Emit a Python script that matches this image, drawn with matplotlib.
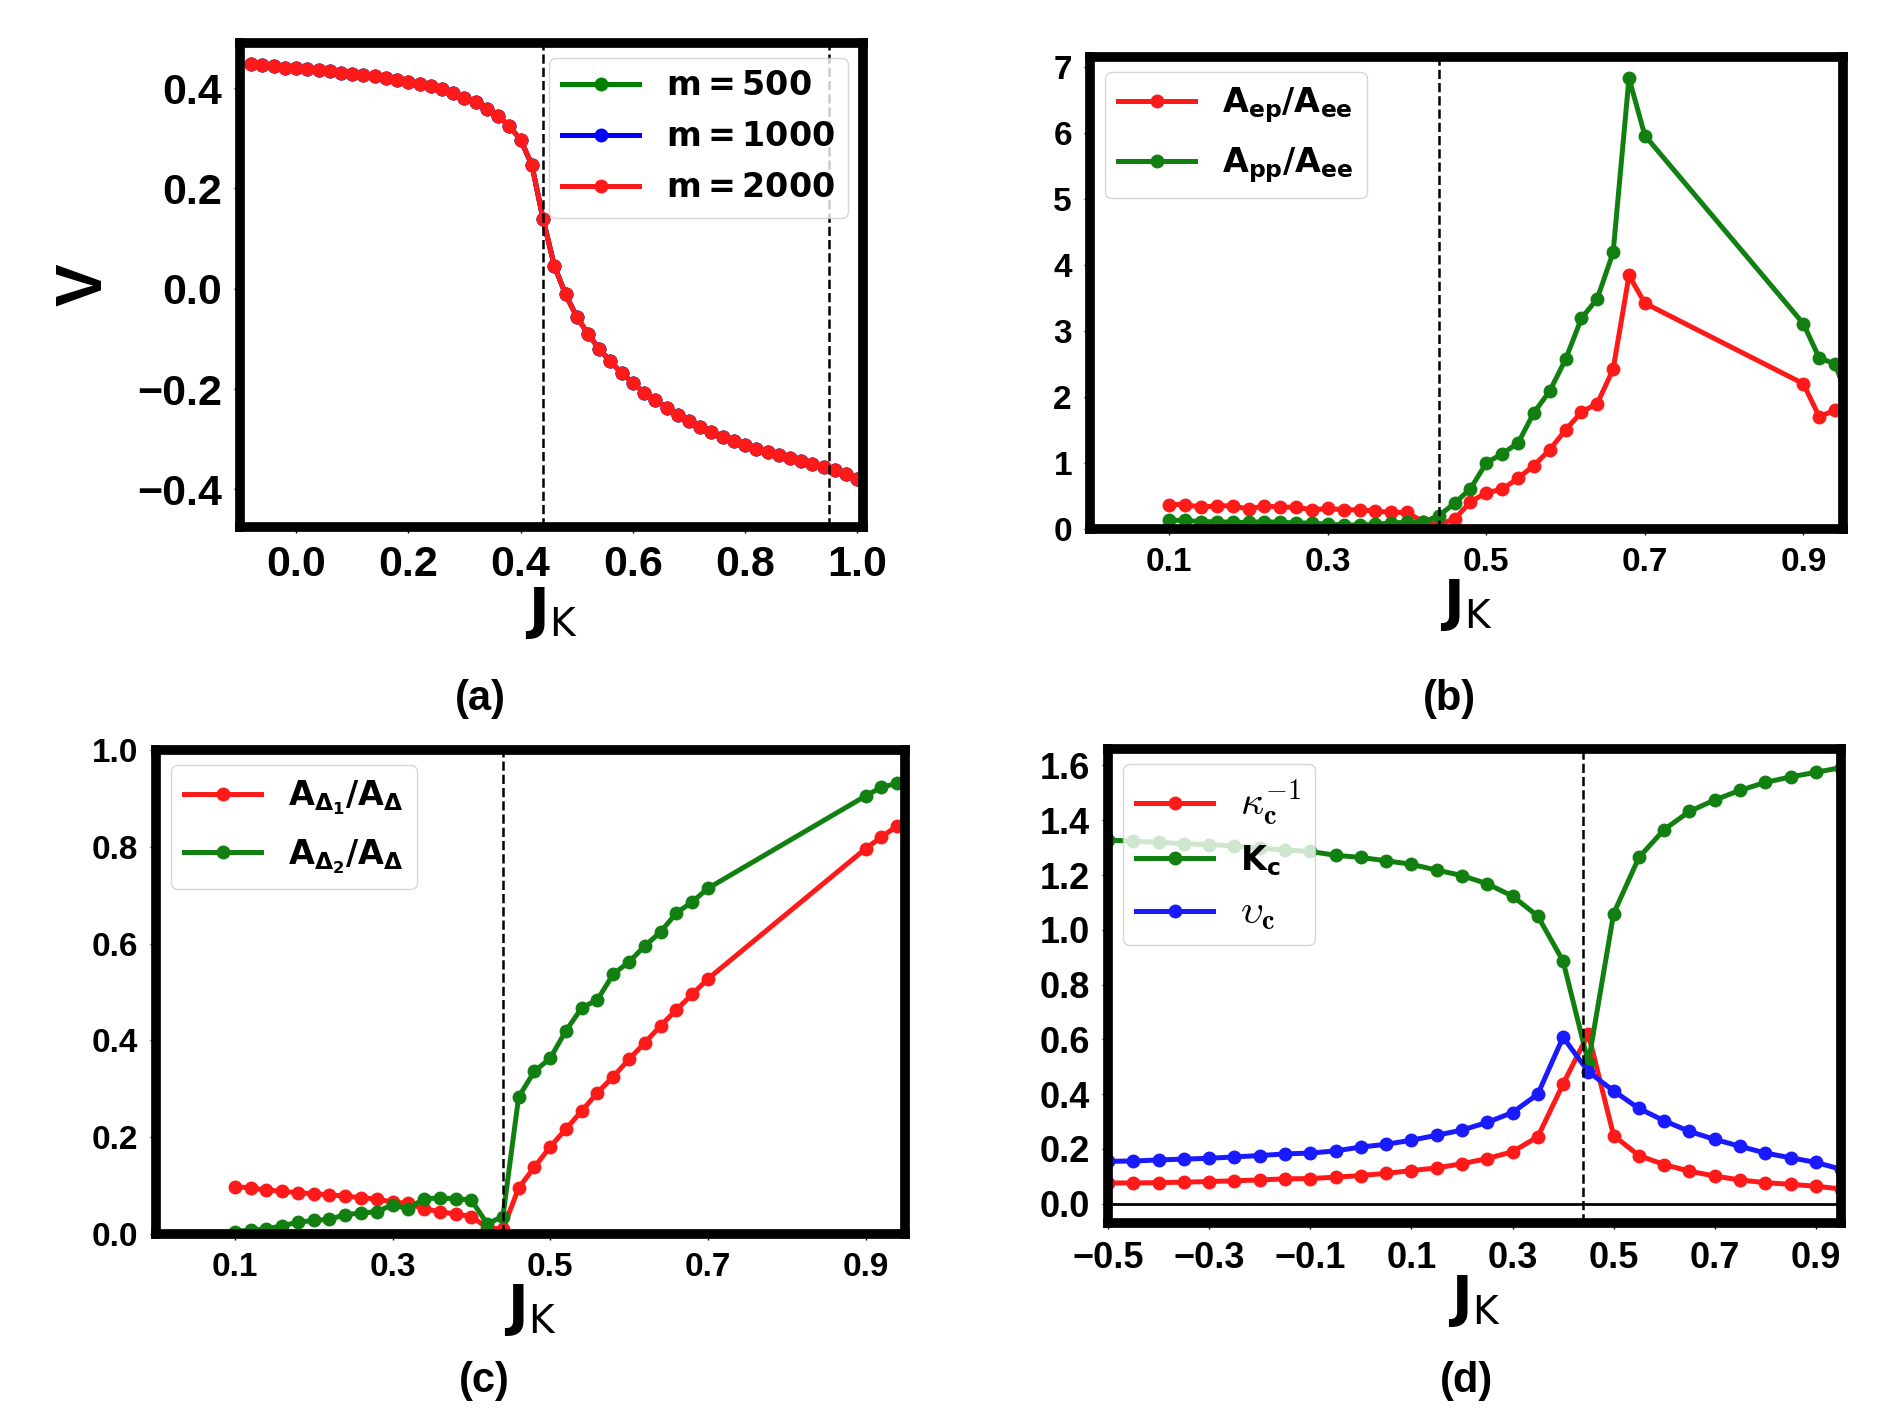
import matplotlib
matplotlib.use("Agg")
import matplotlib.pyplot as plt

plt.rcParams['font.family'] = ['Liberation Sans', 'DejaVu Sans']
plt.rcParams['font.weight'] = 'normal'
plt.rcParams['mathtext.fontset'] = 'dejavusans'

# ---------------- panel (a) ----------------
jk_a = [-0.08, -0.06, -0.04, -0.02, 0.00, 0.02, 0.04, 0.06, 0.08, 0.10,
        0.12, 0.14, 0.16, 0.18, 0.20, 0.22, 0.24, 0.26, 0.28, 0.30,
        0.32, 0.34, 0.36, 0.38, 0.40, 0.42, 0.44, 0.46, 0.48, 0.50,
        0.52, 0.54, 0.56, 0.58, 0.60, 0.62, 0.64, 0.66, 0.68, 0.70,
        0.72, 0.74, 0.76, 0.78, 0.80, 0.82, 0.84, 0.86, 0.88, 0.90,
        0.92, 0.94, 0.96, 0.98, 1.00]
v_m2000 = [0.448, 0.447, 0.444, 0.441, 0.440, 0.438, 0.436, 0.434, 0.431, 0.429,
           0.426, 0.424, 0.420, 0.416, 0.412, 0.409, 0.404, 0.398, 0.390, 0.381,
           0.372, 0.359, 0.345, 0.324, 0.297, 0.247, 0.139, 0.046, -0.011, -0.056,
           -0.090, -0.120, -0.145, -0.168, -0.188, -0.207, -0.222, -0.237, -0.251, -0.264,
           -0.275, -0.285, -0.295, -0.304, -0.312, -0.319, -0.326, -0.332, -0.338, -0.344,
           -0.349, -0.355, -0.362, -0.370, -0.379]
v_m1000 = list(v_m2000)   # indistinguishable from m=2000 in the picture
v_m500 = list(v_m2000)
vlines_a = [0.44, 0.95]

# ---------------- panel (b) ----------------
jk_b = [0.10, 0.12, 0.14, 0.16, 0.18, 0.20, 0.22, 0.24, 0.26, 0.28,
        0.30, 0.32, 0.34, 0.36, 0.38, 0.40, 0.42, 0.44, 0.46, 0.48,
        0.50, 0.52, 0.54, 0.56, 0.58, 0.60, 0.62, 0.64, 0.66, 0.68,
        0.70, 0.90, 0.92, 0.94, 0.96]
aep_aee = [0.37, 0.37, 0.33, 0.35, 0.35, 0.30, 0.35, 0.33, 0.33, 0.29,
           0.31, 0.29, 0.29, 0.27, 0.25, 0.25, 0.11, 0.07, 0.15, 0.41,
           0.55, 0.60, 0.77, 0.96, 1.20, 1.50, 1.77, 1.90, 2.42, 3.84,
           3.42, 2.20, 1.70, 1.80, 1.66]
app_aee = [0.13, 0.13, 0.11, 0.11, 0.10, 0.10, 0.11, 0.10, 0.09, 0.09,
           0.07, 0.06, 0.06, 0.07, 0.09, 0.10, 0.10, 0.20, 0.39, 0.61,
           1.00, 1.14, 1.30, 1.76, 2.09, 2.57, 3.19, 3.49, 4.19, 6.83,
           5.96, 3.11, 2.59, 2.50, 1.85]

# ---------------- panel (c) ----------------
jk_c = [0.10, 0.12, 0.14, 0.16, 0.18, 0.20, 0.22, 0.24, 0.26, 0.28,
        0.30, 0.32, 0.34, 0.36, 0.38, 0.40, 0.42, 0.44, 0.46, 0.48,
        0.50, 0.52, 0.54, 0.56, 0.58, 0.60, 0.62, 0.64, 0.66, 0.68,
        0.70, 0.90, 0.92, 0.94]
ad1_ad = [0.098, 0.095, 0.091, 0.088, 0.085, 0.083, 0.081, 0.078, 0.075, 0.072,
          0.066, 0.063, 0.052, 0.046, 0.041, 0.036, 0.013, 0.010, 0.095, 0.138,
          0.180, 0.217, 0.254, 0.292, 0.325, 0.361, 0.395, 0.430, 0.463, 0.495,
          0.527, 0.796, 0.820, 0.843]
ad2_ad = [0.005, 0.008, 0.010, 0.017, 0.024, 0.028, 0.030, 0.040, 0.043, 0.046,
          0.060, 0.052, 0.073, 0.074, 0.073, 0.070, 0.021, 0.036, 0.283, 0.336,
          0.363, 0.420, 0.467, 0.484, 0.537, 0.562, 0.595, 0.624, 0.663, 0.686,
          0.714, 0.905, 0.923, 0.931]

# ---------------- panel (d) ----------------
jk_d = [-0.50, -0.45, -0.40, -0.35, -0.30, -0.25, -0.20, -0.15, -0.10, -0.05,
        0.00, 0.05, 0.10, 0.15, 0.20, 0.25, 0.30, 0.35, 0.40, 0.45,
        0.50, 0.55, 0.60, 0.65, 0.70, 0.75, 0.80, 0.85, 0.90, 0.95]
kappa_inv = [0.076, 0.076, 0.077, 0.079, 0.081, 0.084, 0.087, 0.091, 0.092, 0.097,
             0.103, 0.111, 0.121, 0.131, 0.146, 0.165, 0.190, 0.244, 0.437, 0.620,
             0.249, 0.176, 0.143, 0.119, 0.101, 0.087, 0.077, 0.071, 0.064, 0.054]
k_c = [1.328, 1.323, 1.319, 1.314, 1.311, 1.306, 1.299, 1.291, 1.286, 1.272,
       1.264, 1.252, 1.239, 1.218, 1.198, 1.168, 1.123, 1.050, 0.886, 0.515,
       1.059, 1.264, 1.366, 1.432, 1.474, 1.509, 1.538, 1.558, 1.575, 1.592]
v_c = [0.155, 0.156, 0.160, 0.163, 0.166, 0.171, 0.176, 0.182, 0.185, 0.193,
       0.207, 0.217, 0.232, 0.250, 0.269, 0.297, 0.333, 0.400, 0.608, 0.482,
       0.412, 0.348, 0.303, 0.264, 0.235, 0.210, 0.185, 0.168, 0.151, 0.126]

jk_crit = 0.44

LW = 3.6
MS = 9
SPINE = 7
LEG_FS = 24

fig = plt.figure(figsize=(19, 14.28), dpi=100)

def style(ax, labelsize):
    for s in ax.spines.values():
        s.set_linewidth(SPINE)
        s.set_zorder(5)
    ax.tick_params(axis='both', labelsize=labelsize, width=1.0, length=4, pad=9)
    for lab in ax.get_xticklabels() + ax.get_yticklabels():
        lab.set_fontweight('bold')

def jk_label(ax, pad):
    ax.set_xlabel(r'$\mathbf{J}_{\mathrm{K}}$', fontsize=40, labelpad=pad)

def legend(ax, loc, spacing=0.6):
    return ax.legend(loc=loc, fontsize=LEG_FS, handlelength=2.3, labelspacing=spacing,
                     borderaxespad=0.45)

# (a)
ax = fig.add_axes([0.1263, 0.6310, 0.3279, 0.3389])
ax.plot(jk_a, v_m500, '-o', color='green', lw=LW, ms=MS, label=r'$\mathbf{m = 500}$')
ax.plot(jk_a, v_m1000, '-o', color='blue', lw=LW, ms=MS, label=r'$\mathbf{m = 1000}$')
ax.plot(jk_a, v_m2000, '-o', color='#ff1a1a', lw=LW, ms=MS, label=r'$\mathbf{m = 2000}$')
for xv in vlines_a:
    ax.axvline(xv, color='black', ls='--', lw=1.8)
ax.set_xlim(-0.1, 1.01)
ax.set_ylim(-0.475, 0.49)
ax.set_xticks([0.0, 0.2, 0.4, 0.6, 0.8, 1.0])
ax.set_yticks([-0.4, -0.2, 0.0, 0.2, 0.4])
style(ax, 31)
jk_label(ax, 0)
ax.set_ylabel('V', fontsize=46, fontweight='bold', labelpad=16)
legend(ax, 'upper right')

# (b)
ax = fig.add_axes([0.5737, 0.6296, 0.3963, 0.3305])
ax.plot(jk_b, aep_aee, '-o', color='#ff1a1a', lw=LW, ms=MS, label=r'$\mathbf{A_{ep}/A_{ee}}$')
ax.plot(jk_b, app_aee, '-o', color='#118011', lw=LW, ms=MS, label=r'$\mathbf{A_{pp}/A_{ee}}$')
ax.axvline(jk_crit, color='black', ls='--', lw=1.8)
ax.set_xlim(0, 0.95)
ax.set_ylim(0, 7.15)
ax.set_xticks([0.1, 0.3, 0.5, 0.7, 0.9])
ax.set_yticks([0, 1, 2, 3, 4, 5, 6, 7])
style(ax, 24)
jk_label(ax, -1)
legend(ax, 'upper left')

# (c)
ax = fig.add_axes([0.0821, 0.1359, 0.3942, 0.3389])
ax.plot(jk_c, ad1_ad, '-o', color='#ff1a1a', lw=LW, ms=MS, label=r'$\mathbf{A_{\Delta_1}/A_{\Delta}}$')
ax.plot(jk_c, ad2_ad, '-o', color='#118011', lw=LW, ms=MS, label=r'$\mathbf{A_{\Delta_2}/A_{\Delta}}$')
ax.axvline(jk_crit, color='black', ls='--', lw=1.8)
ax.set_xlim(0, 0.95)
ax.set_ylim(0, 1.0)
ax.set_xticks([0.1, 0.3, 0.5, 0.7, 0.9])
ax.set_yticks([0.0, 0.2, 0.4, 0.6, 0.8, 1.0])
style(ax, 24)
jk_label(ax, -1)
legend(ax, 'upper left')

# (d)
ax = fig.add_axes([0.5832, 0.1436, 0.3858, 0.3319])
ax.plot(jk_d, kappa_inv, '-o', color='#ff1a1a', lw=LW, ms=MS, label=r'$\kappa_{\mathbf{c}}^{-1}$')
ax.plot(jk_d, k_c, '-o', color='#118011', lw=LW, ms=MS, label=r'$\mathbf{K_c}$')
ax.plot(jk_d, v_c, '-o', color='#1a1aff', lw=LW, ms=MS, label=r'$\upsilon_{\mathbf{c}}$')
ax.axvline(jk_crit, color='black', ls='--', lw=1.8)
ax.axhline(0.0, color='black', lw=2)
ax.set_xlim(-0.5, 0.95)
ax.set_ylim(-0.07, 1.66)
ax.set_xticks([-0.5, -0.3, -0.1, 0.1, 0.3, 0.5, 0.7, 0.9])
ax.set_yticks([0.0, 0.2, 0.4, 0.6, 0.8, 1.0, 1.2, 1.4, 1.6])
style(ax, 26)
jk_label(ax, -2)
leg = legend(ax, 'upper left', spacing=0.45)
leg_texts = leg.get_texts()
for i in (0, 2):
    leg_texts[i].set_math_fontfamily('cm')
    leg_texts[i].set_fontsize(29)

# panel labels
for (px, py, t) in [(0.253, 0.5105, '(a)'), (0.763, 0.5105, '(b)'),
                    (0.255, 0.033, '(c)'), (0.772, 0.033, '(d)')]:
    fig.text(px, py, t, fontsize=30, fontweight='bold', ha='center', va='center')

fig.savefig('out.png', dpi=100)
